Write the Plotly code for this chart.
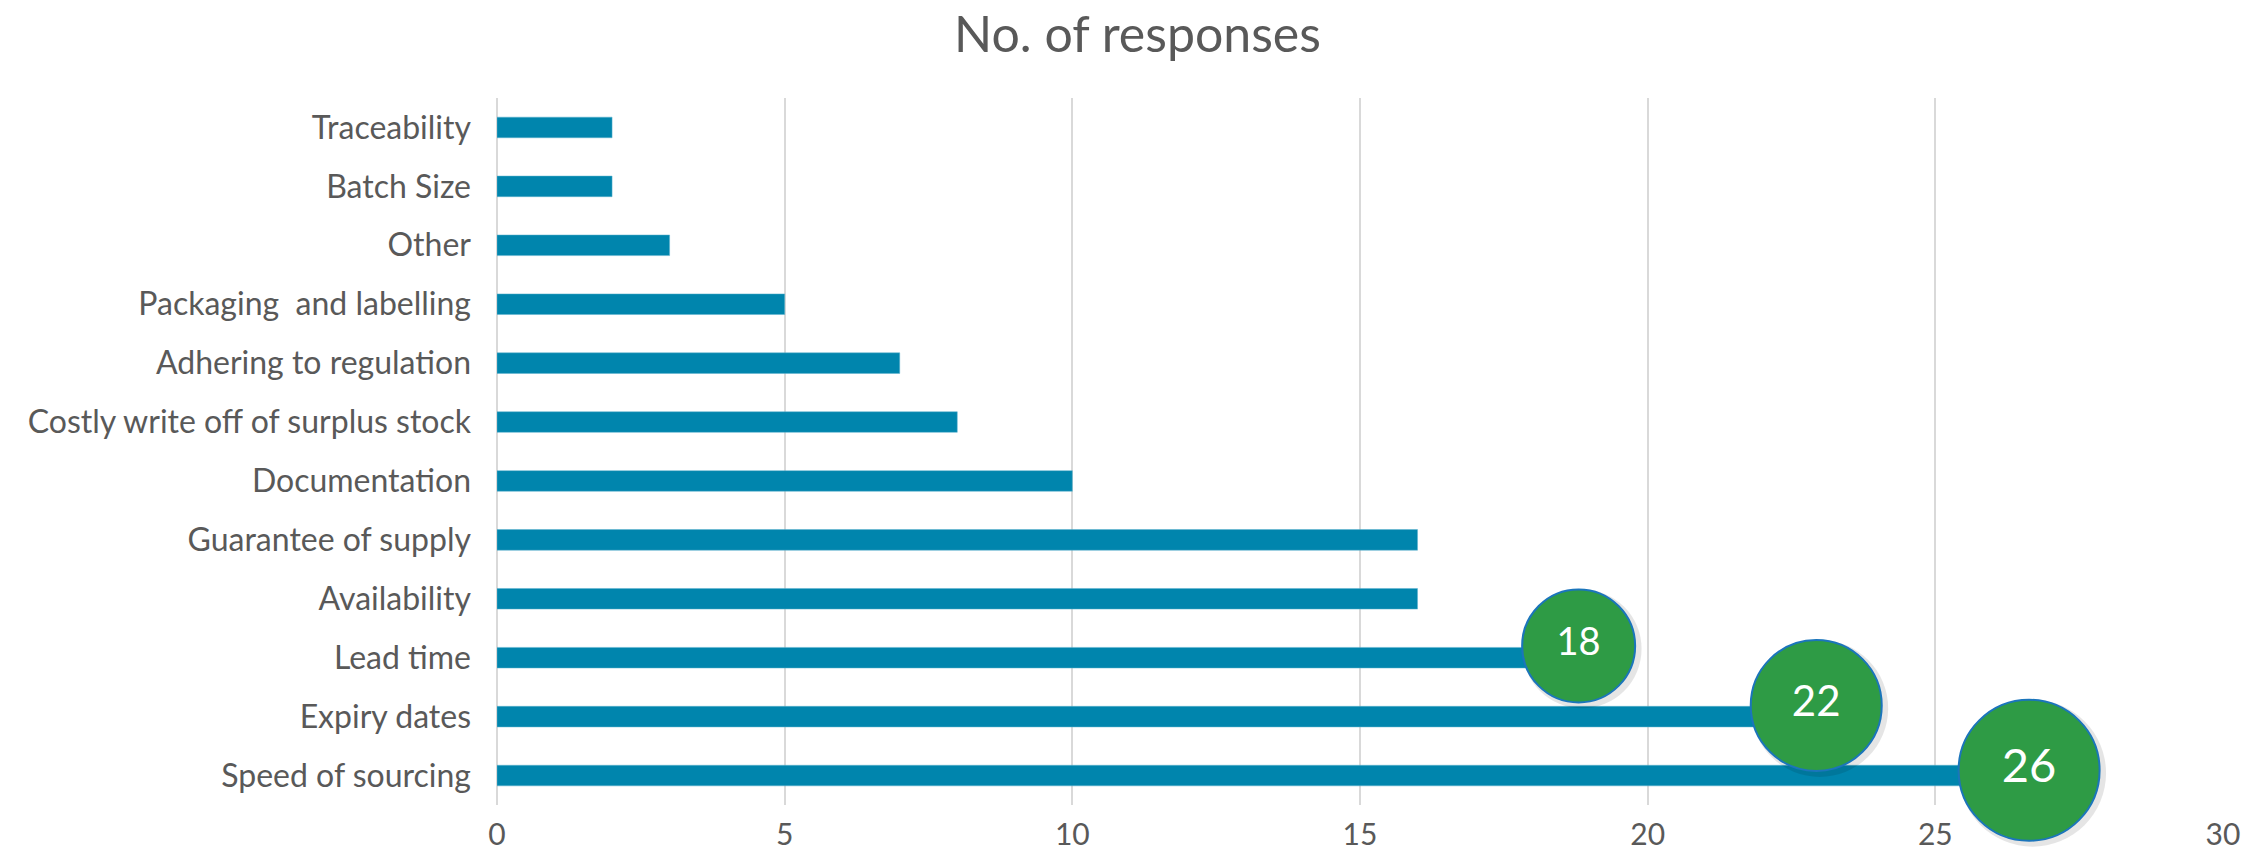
import plotly.graph_objects as go

# ---- data (top to bottom as shown) ----
categories = [
    "Traceability",
    "Batch Size",
    "Other",
    "Packaging  and labelling",
    "Adhering to regulation",
    "Costly write off of surplus stock",
    "Documentation",
    "Guarantee of supply",
    "Availability",
    "Lead time",
    "Expiry dates",
    "Speed of sourcing",
]
responses = [2, 2, 3, 5, 7, 8, 10, 16, 16, 18, 22, 26]
highlight_categories = ["Lead time", "Expiry dates", "Speed of sourcing"]
x_ticks = [0, 5, 10, 15, 20, 25, 30]
title_text = "No. of responses"

# ---- styling ----
BAR_COLOR = "#0085AD"
GREEN = "#2E9B45"
BORDER = "#1B75BB"
TEXT = "#595959"
GRID = "#D9D9D9"
FONT = "Lato"
bubble_sizes = [113, 131, 141]
bubble_font_sizes = [38, 42, 47]
bubble_dx = [0.8, 0.93, 0.63]      # data-unit shift beyond bar end
bubble_dy = [0.2, 0.19, 0.09]      # category-unit shift upward

n = len(categories)
ypos = [n - 1 - i for i in range(n)]

fig = go.Figure()
fig.add_trace(go.Bar(
    x=responses, y=ypos, orientation="h",
    marker=dict(color=BAR_COLOR, line=dict(color="#5FB3CF", width=0.5)),
    width=0.35, hovertext=categories, hoverinfo="x+text",
    showlegend=False,
))

bx, by, bt = [], [], []
for k, c in enumerate(highlight_categories):
    i = categories.index(c)
    v = responses[i]
    bx.append(v + bubble_dx[k])
    by.append(ypos[i] + bubble_dy[k])
    bt.append(str(v))

# soft shadow
fig.add_trace(go.Scatter(
    x=[x + 0.06 for x in bx], y=[y - 0.05 for y in by], mode="markers",
    marker=dict(size=[s + 6 for s in bubble_sizes], color="rgba(0,0,0,0.10)",
                opacity=1, line=dict(width=0)),
    hoverinfo="skip", showlegend=False, cliponaxis=False,
))
fig.add_trace(go.Scatter(
    x=bx, y=by, mode="markers+text", text=bt,
    textposition="middle center",
    textfont=dict(family=FONT, size=bubble_font_sizes, color="white"),
    marker=dict(size=bubble_sizes, color=GREEN, opacity=1,
                line=dict(color=BORDER, width=2)),
    showlegend=False, cliponaxis=False,
))

fig.update_layout(
    template="none",
    width=2259, height=855,
    paper_bgcolor="white", plot_bgcolor="white",
    margin=dict(l=489, r=44, t=90, b=58, autoexpand=False),
    font=dict(family=FONT, color=TEXT, size=30),
    title=dict(text=title_text, x=0.5, xanchor="center",
               y=1 - 9 / 855, yanchor="top",
               font=dict(family=FONT, size=50, color=TEXT)),
    xaxis=dict(range=[0, 30], tickvals=x_ticks, showgrid=True, gridcolor=GRID,
               gridwidth=2, zeroline=True, zerolinecolor=GRID, zerolinewidth=2,
               showline=False, ticks="", ticklabelstandoff=9, automargin=False,
               tickfont=dict(size=30, color=TEXT, family=FONT)),
    yaxis=dict(range=[-0.5, n - 0.5], tickvals=ypos, ticktext=categories,
               showgrid=False, zeroline=False, showline=False, ticks="",
               ticklabelstandoff=25, automargin=False,
               tickfont=dict(size=32, color=TEXT, family=FONT)),
)

fig.write_html("out.html")
